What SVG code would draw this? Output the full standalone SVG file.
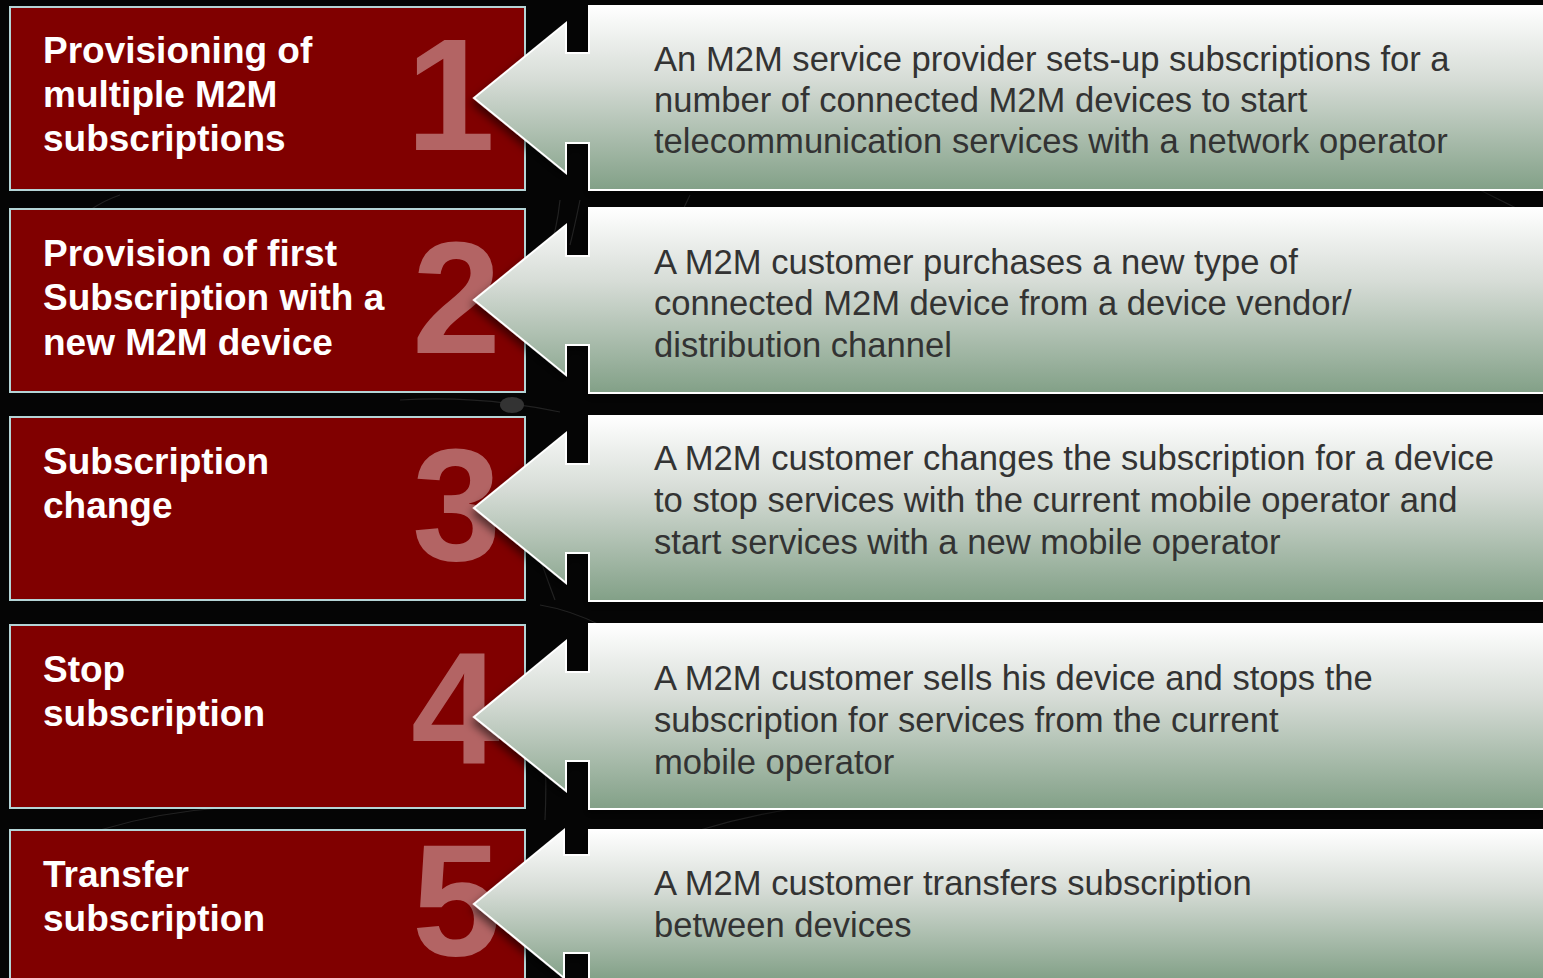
<svg xmlns="http://www.w3.org/2000/svg" width="1543" height="978" viewBox="0 0 1543 978">
  <style>
    .box { fill: #800000; stroke: #b4d4d6; stroke-width: 2; }
    .num { font-family: "Liberation Sans", Arial, sans-serif; font-weight: bold; font-size: 160px; fill: #b36464; }
    .lbl { font-family: "Liberation Sans", Arial, sans-serif; font-weight: bold; font-size: 37px; fill: #ffffff; }
    .desc { font-family: "Liberation Sans", Arial, sans-serif; font-size: 34.6px; fill: #333333; }
    .arrow { fill: url(#arrowGrad); stroke: #ffffff; stroke-width: 2; stroke-linejoin: miter; filter: url(#shadow); }
    .bgline { fill: none; stroke: #222222; stroke-width: 1.2; }
  </style>
  <defs>
    <linearGradient id="arrowGrad" x1="0" y1="0" x2="0" y2="1">
      <stop offset="0" stop-color="#ffffff"/>
      <stop offset="0.4" stop-color="#d6dcd6"/>
      <stop offset="1" stop-color="#82a087"/>
    </linearGradient>
    <filter id="shadow" x="-10%" y="-10%" width="120%" height="130%">
      <feDropShadow dx="-2" dy="5" stdDeviation="4" flood-color="#000000" flood-opacity="0.55"/>
    </filter>
  </defs>

  <!-- background -->
  <rect x="0" y="0" width="1543" height="978" fill="#050505"/>
  <g id="background-texture">
    <path class="bgline" d="M60 235 Q 90 205 120 195"/>
    <path class="bgline" d="M580 200 Q 575 225 570 245"/>
    <path class="bgline" d="M690 195 Q 680 215 672 240"/>
    <path class="bgline" d="M1480 190 Q 1500 200 1520 210"/>
    <path class="bgline" d="M530 300 Q 555 250 560 200"/>
    <path class="bgline" d="M400 400 Q 480 395 560 412"/>
    <path class="bgline" d="M540 605 Q 570 610 600 625"/>
    <path class="bgline" d="M540 700 Q 548 760 545 820"/>
    <path class="bgline" d="M520 500 Q 540 560 555 600"/>
    <path class="bgline" d="M700 830 Q 760 812 820 805"/>
    <path class="bgline" d="M100 830 Q 160 812 220 808"/>
    <ellipse cx="512" cy="405" rx="12" ry="8" fill="#333333"/>
  </g>

  <g id="connectors"></g>

  <!-- Row 1 -->
  <g id="node-1">
    <rect class="box" x="10" y="7" width="515" height="183"/>
    <text class="num" x="406" y="150">1</text>
    <text class="lbl" x="43" y="63">Provisioning of</text>
    <text class="lbl" x="43" y="107">multiple M2M</text>
    <text class="lbl" x="43" y="151">subscriptions</text>
    <polygon class="arrow" points="474,98 566,23 566,53 589,53 589,6 1545,6 1545,190 589,190 589,143 566,143 566,173"/>
    <text class="desc" x="654" y="71">An M2M service provider sets-up subscriptions for a</text>
    <text class="desc" x="654" y="112">number of connected M2M devices to start</text>
    <text class="desc" x="654" y="153">telecommunication services with a network operator</text>
  </g>

  <!-- Row 2 -->
  <g id="node-2">
    <rect class="box" x="10" y="209" width="515" height="183"/>
    <text class="num" x="412" y="353">2</text>
    <text class="lbl" x="43" y="266">Provision of first</text>
    <text class="lbl" x="43" y="310">Subscription with a</text>
    <text class="lbl" x="43" y="355">new M2M device</text>
    <polygon class="arrow" points="474,300 566,225 566,256 589,256 589,208 1545,208 1545,393 589,393 589,345 566,345 566,375"/>
    <text class="desc" x="654" y="274">A M2M customer purchases a new type of</text>
    <text class="desc" x="654" y="315">connected M2M device from a device vendor/</text>
    <text class="desc" x="654" y="357">distribution channel</text>
  </g>

  <!-- Row 3 -->
  <g id="node-3">
    <rect class="box" x="10" y="417" width="515" height="183"/>
    <text class="num" x="412" y="560">3</text>
    <text class="lbl" x="43" y="474">Subscription</text>
    <text class="lbl" x="43" y="518">change</text>
    <polygon class="arrow" points="474,508 566,433 566,464 589,464 589,416 1545,416 1545,601 589,601 589,553 566,553 566,583"/>
    <text class="desc" x="654" y="470">A M2M customer changes the subscription for a device</text>
    <text class="desc" x="654" y="512">to stop services with the current mobile operator and</text>
    <text class="desc" x="654" y="554">start services with a new mobile operator</text>
  </g>

  <!-- Row 4 -->
  <g id="node-4">
    <rect class="box" x="10" y="625" width="515" height="183"/>
    <text class="num" x="411" y="763">4</text>
    <text class="lbl" x="43" y="682">Stop</text>
    <text class="lbl" x="43" y="726">subscription</text>
    <polygon class="arrow" points="474,717 566,641 566,672 589,672 589,624 1545,624 1545,809 589,809 589,761 566,761 566,791"/>
    <text class="desc" x="654" y="690">A M2M customer sells his device and stops the</text>
    <text class="desc" x="654" y="732">subscription for services from the current</text>
    <text class="desc" x="654" y="774">mobile operator</text>
  </g>

  <!-- Row 5 -->
  <g id="node-5">
    <rect class="box" x="10" y="830" width="515" height="160"/>
    <text class="num" x="412" y="955">5</text>
    <text class="lbl" x="43" y="887">Transfer</text>
    <text class="lbl" x="43" y="931">subscription</text>
    <polygon class="arrow" points="474,904 564,830 564,855 589,855 589,830 1545,830 1545,980 589,980 589,953 564,953 564,978"/>
    <text class="desc" x="654" y="895">A M2M customer transfers subscription</text>
    <text class="desc" x="654" y="937">between devices</text>
  </g>
</svg>
